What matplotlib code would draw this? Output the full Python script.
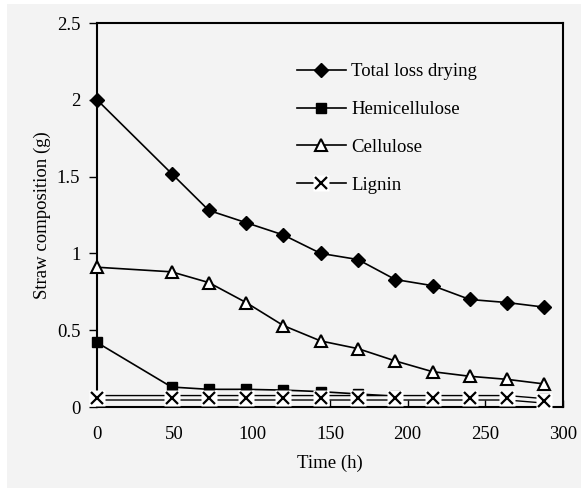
import matplotlib
matplotlib.use('Agg')
import matplotlib.pyplot as plt
from matplotlib.patches import Rectangle
from matplotlib.lines import Line2D

time_h = [0, 48, 72, 96, 120, 144, 168, 192, 216, 240, 264, 288]
total_loss = [2.00, 1.52, 1.28, 1.20, 1.12, 1.00, 0.96, 0.83, 0.79, 0.70, 0.68, 0.65]
hemicellulose = [0.42, 0.13, 0.115, 0.115, 0.11, 0.10, 0.085, 0.07, 0.065, 0.06, 0.055, 0.05]
cellulose = [0.91, 0.88, 0.81, 0.68, 0.53, 0.43, 0.38, 0.30, 0.23, 0.20, 0.18, 0.15]
lignin = [0.06, 0.06, 0.06, 0.06, 0.06, 0.06, 0.06, 0.06, 0.06, 0.06, 0.06, 0.04]

xticks = [0, 50, 100, 150, 200, 250, 300]
yticks = [0, 0.5, 1, 1.5, 2, 2.5]
ytick_labels = ['0', '0.5', '1', '1.5', '2', '2.5']

bg = '#f3f3f3'
plt.rcParams['font.family'] = ['Liberation Serif', 'DejaVu Serif']
plt.rcParams['font.size'] = 13.5

fig = plt.figure(figsize=(5.81, 4.88), dpi=100, facecolor='white')
fig.patches.append(Rectangle((7 / 581, 0), 1, 484 / 488, transform=fig.transFigure,
                             facecolor=bg, edgecolor='none', zorder=-10))
ax = fig.add_axes([97 / 581, 81 / 488, 466 / 581, 384 / 488])
ax.set_facecolor(bg)

lw = 1.2
l1, = ax.plot(time_h, total_loss, color='black', lw=lw, marker='D', ms=7,
              mfc='black', mec='black', clip_on=False, zorder=3)
l2, = ax.plot(time_h, hemicellulose, color='black', lw=lw, marker='s', ms=6.5,
              mfc='black', mec='black', clip_on=False, zorder=3)
l3, = ax.plot(time_h, cellulose, color='black', lw=lw, marker='^', ms=9,
              mfc='white', mec='black', mew=1.5, clip_on=False, zorder=3)

# lignin: double line with X markers on white boxes
ax.plot(time_h, lignin, color='black', lw=4.2, clip_on=False, zorder=4)
ax.plot(time_h, lignin, color=bg, lw=2.2, clip_on=False, zorder=4)
ax.plot(time_h, lignin, ls='none', marker='s', ms=11, mfc='white',
        mec='none', clip_on=False, zorder=5)
ax.plot(time_h, lignin, ls='none', marker='x', ms=8, mec='black',
        mew=1.6, clip_on=False, zorder=6)

ax.set_xlim(0, 300)
ax.set_ylim(0, 2.5)
ax.set_xticks(xticks)
ax.set_yticks(yticks)
ax.set_yticklabels(ytick_labels)
ax.tick_params(axis='x', direction='in', length=5, width=1, pad=14)
ax.tick_params(axis='y', direction='out', length=6, width=1, pad=6)
for s in ax.spines.values():
    s.set_linewidth(1.5)

ax.set_xlabel('Time (h)', labelpad=8)
ax.set_ylabel('Straw composition (g)', labelpad=4)

h4 = (Line2D([], [], color='black', lw=lw, marker='s', ms=11, mfc='white', mec='none'),
      Line2D([], [], ls='none', marker='x', ms=8, mec='black', mew=1.6))
ax.legend([l1, l2, l3, h4],
          ['Total loss drying', 'Hemicellulose', 'Cellulose', 'Lignin'],
          loc='upper left', bbox_to_anchor=(0.429, 0.895), frameon=False,
          borderpad=0, handlelength=2.6, handletextpad=0.3, labelspacing=1.1,
          borderaxespad=0)

fig.savefig('out.png', dpi=100, facecolor=fig.get_facecolor())
